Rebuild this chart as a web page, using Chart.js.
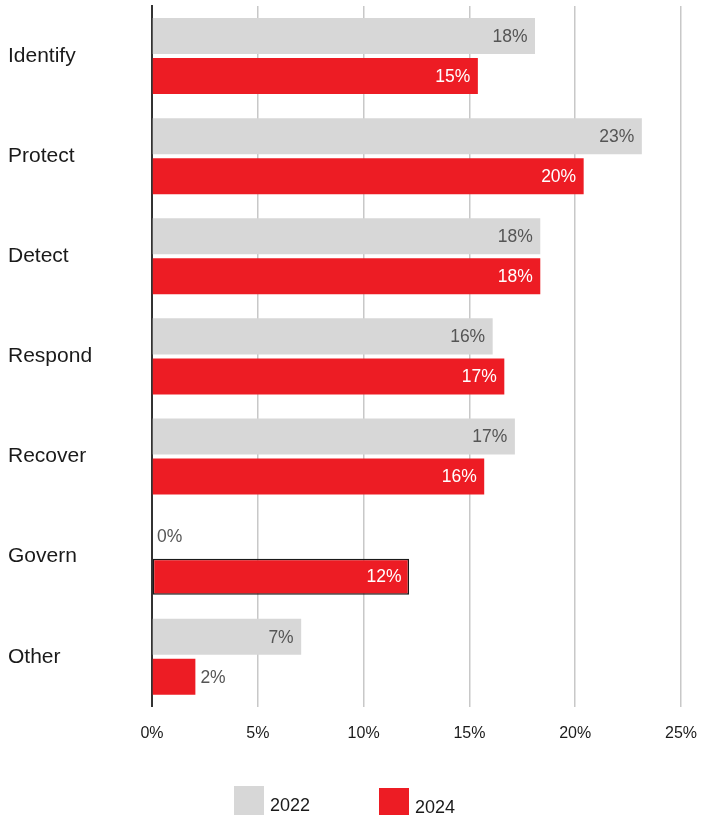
<!DOCTYPE html>
<html>
<head>
<meta charset="utf-8">
<script src="https://cdn.jsdelivr.net/npm/chart.js@4.4.1/dist/chart.umd.min.js"></script>
<style>
    html, body { margin: 0; padding: 0; background: #fff; overflow: hidden; }
    #wrap { position: relative; width: 701px; height: 815px; }
    #legende {
        position: absolute; left: 234px; top: 786px;
        display: flex; align-items: flex-start;
        font: 18px "Liberation Sans", Arial, sans-serif; color: #1a1a1a;
    }
    .item { display: flex; align-items: flex-start; }
    .item + .item { margin-left: 69px; margin-top: 2px; }
    .carre { width: 30px; height: 30px; }
    .item span { margin-left: 6px; margin-top: 9px; }
</style>
</head>
<body>
<div id="wrap">
    <canvas id="chartFonctions"></canvas>
    <div id="legende"></div>
</div>
<script>
// categories et valeurs (%)
var fonctions = ["Identify", "Protect", "Detect", "Respond", "Recover", "Govern", "Other"];
var valeurs2022 = [18.1, 23.15, 18.35, 16.1, 17.15, 0, 7.05];
var valeurs2024 = [15.4, 20.4, 18.35, 16.65, 15.7, 12.15, 2.05];
var ticksX = [0, 5, 10, 15, 20, 25];

var gris = '#d7d7d7';
var rouge = '#ed1c24';
var police = '"Liberation Sans", Arial, sans-serif';

// pourcentages affichés au bout des barres
var etiquettes = {
    id: 'etiquettes',
    afterDatasetsDraw: function (chart) {
        var ctx = chart.ctx;
        ctx.save();
        ctx.font = '17.5px ' + police;
        ctx.textBaseline = 'middle';
        chart.data.datasets.forEach(function (ds, i) {
            chart.getDatasetMeta(i).data.forEach(function (barre, j) {
                var texte = Math.round(ds.data[j]) + '%';
                var largeur = ctx.measureText(texte).width;
                if (barre.x - barre.base > largeur + 26) {
                    ctx.textAlign = 'right';
                    ctx.fillStyle = ds.couleurTexte;
                    ctx.fillText(texte, barre.x - 7.5, barre.y + 1);
                } else {
                    ctx.textAlign = 'left';
                    ctx.fillStyle = '#555555';
                    ctx.fillText(texte, barre.x + 5, barre.y + 1);
                }
            });
        });
        ctx.restore();
    }
};

var ctx = document.getElementById('chartFonctions').getContext('2d');
var chart = new Chart(ctx, {
    type: 'bar',
    data: {
        labels: fonctions,
        datasets: [{
            label: '2022',
            data: valeurs2022,
            backgroundColor: gris,
            couleurTexte: '#555555',
            borderWidth: 0,
            categoryPercentage: 0.8,
            barPercentage: 0.9
        }, {
            label: '2024',
            data: valeurs2024,
            backgroundColor: rouge,
            couleurTexte: '#ffffff',
            // seule la barre Govern a un contour
            borderColor: '#1a1a1a',
            borderWidth: [0, 0, 0, 0, 0, 1.5, 0],
            borderSkipped: false,
            categoryPercentage: 0.8,
            barPercentage: 0.9
        }]
    },
    options: {
        indexAxis: 'y',
        responsive: true,
        maintainAspectRatio: false,
        animation: false,
        layout: { padding: { left: 8, right: 20, top: 6, bottom: 55 } },
        plugins: {
            legend: { display: false },
            tooltip: { enabled: false }
        },
        scales: {
            x: {
                min: 0,
                max: 25,
                afterBuildTicks: function (scale) {
                    scale.ticks = ticksX.map(function (v) { return { value: v }; });
                },
                afterFit: function (scale) {
                    scale.paddingLeft = 0;
                    scale.paddingRight = 0;
                },
                ticks: {
                    padding: 17,
                    color: '#1a1a1a',
                    font: { family: police, size: 16 },
                    callback: function (v) { return v + '%'; }
                },
                grid: {
                    drawTicks: false,
                    lineWidth: 1.5,
                    color: function (c) { return c.index === 0 ? 'rgba(0,0,0,0)' : '#c8c8c8'; }
                },
                border: { display: false }
            },
            y: {
                afterFit: function (scale) {
                    scale.width = 144;
                    scale.paddingTop = 0;
                    scale.paddingBottom = 0;
                },
                ticks: {
                    crossAlign: 'far',
                    color: '#1a1a1a',
                    font: { family: police, size: 21 }
                },
                grid: { display: false, drawTicks: false },
                border: { display: true, color: '#333333', width: 2 }
            }
        }
    },
    plugins: [etiquettes]
});

// légende en bas
var legende = document.getElementById('legende');
chart.data.datasets.forEach(function (ds) {
    var item = document.createElement('div');
    item.className = 'item';
    item.innerHTML = '<div class="carre" style="background:' + ds.backgroundColor + '"></div><span>' + ds.label + '</span>';
    legende.appendChild(item);
});
</script>
</body>
</html>
